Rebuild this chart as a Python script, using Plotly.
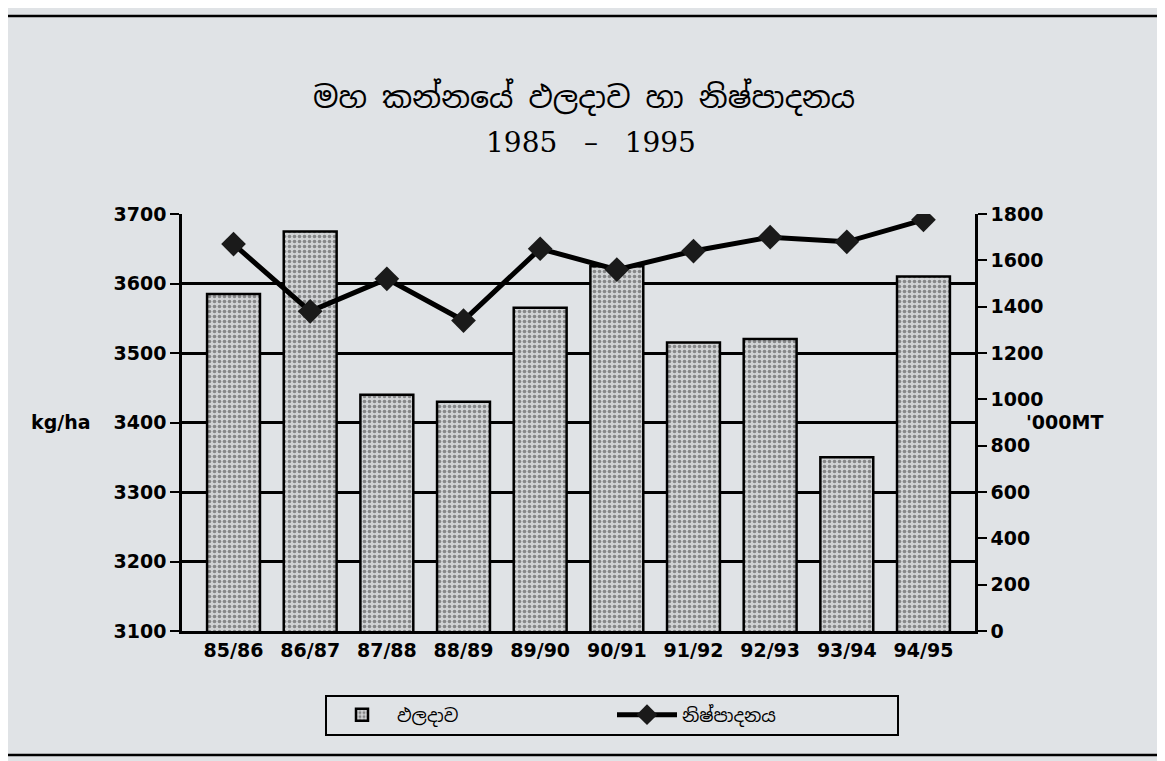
import plotly.graph_objects as go

seasons = ["85/86", "86/87", "87/88", "88/89", "89/90", "90/91", "91/92", "92/93", "93/94", "94/95"]
yield_kg_ha = [3585, 3675, 3440, 3430, 3565, 3625, 3515, 3520, 3350, 3610]
production_000mt = [1670, 1380, 1520, 1340, 1650, 1560, 1640, 1700, 1680, 1775]

title_si = "මහ කන්නයේ ඵලදාව හා නිෂ්පාදනය"
subtitle = "1985   –   1995"
yield_name = "ඵලදාව"
prod_name = "නිෂ්පාදනය"

left_ticks = [3100, 3200, 3300, 3400, 3500, 3600, 3700]
right_ticks = [0, 200, 400, 600, 800, 1000, 1200, 1400, 1600, 1800]

bg = "#e0e3e6"
si_font = "Noto Sans Sinhala, Iskoola Pota, Noto Sans, sans-serif"
num_font = dict(size=19, family="DejaVu Sans, Liberation Sans, Arial", weight="bold", color="black")


def px_x(px):
    return (px - 182) / 793


def px_y(py):
    return (631 - py) / 417


fig = go.Figure()
fig.add_trace(go.Bar(
    x=seasons, y=yield_kg_ha, name=yield_name, yaxis="y",
    width=0.69,
    marker=dict(color="#cfd1d3",
                line=dict(color="black", width=2.5),
                pattern=dict(shape=".", fgcolor="#3a3a3a", bgcolor="#d0d2d4",
                             size=5, solidity=0.42)),
))
fig.add_trace(go.Scatter(
    x=seasons, y=production_000mt, name=prod_name, yaxis="y2",
    mode="lines+markers",
    line=dict(color="black", width=5),
    marker=dict(symbol="diamond", size=19, color="#1a1a1a"),
))

fig.update_layout(
    width=1165, height=761,
    paper_bgcolor=bg, plot_bgcolor=bg,
    margin=dict(l=174, r=198, t=206, b=138),
    font=dict(family="DejaVu Sans, Liberation Sans, Arial, sans-serif", color="black"),
    showlegend=True,
    bargap=0.31,
    xaxis=dict(showline=True, linecolor="black", linewidth=2.5,
               ticks="", tickfont=num_font, showgrid=False),
    yaxis=dict(range=[3100, 3700], tickvals=left_ticks,
               showline=True, linecolor="black", linewidth=2.5,
               ticks="outside", ticklen=9, tickwidth=2, tickcolor="black",
               showgrid=True, gridcolor="black", gridwidth=2.5,
               tickfont=num_font, zeroline=False),
    yaxis2=dict(range=[0, 1800], tickvals=right_ticks, overlaying="y", side="right",
                showline=True, linecolor="black", linewidth=2.5,
                ticks="outside", ticklen=9, tickwidth=2, tickcolor="black",
                showgrid=False, zeroline=False, tickfont=num_font),
    legend=dict(orientation="h", x=px_x(612), xanchor="center", y=px_y(715), yanchor="middle",
                bordercolor="black", borderwidth=2, bgcolor=bg,
                font=dict(size=18, family=si_font),
                entrywidth=210, itemwidth=60),
)

fig.add_annotation(text=title_si, xref="paper", yref="paper", x=px_x(584), y=px_y(98),
                   showarrow=False, font=dict(size=30, family=si_font), yanchor="middle")
fig.add_annotation(text=subtitle, xref="paper", yref="paper", x=px_x(591), y=px_y(143),
                   showarrow=False, font=dict(size=28, family="DejaVu Serif, Liberation Serif, serif"),
                   yanchor="middle")
fig.add_annotation(text="kg/ha", xref="paper", yref="paper", x=px_x(93), y=px_y(422),
                   xanchor="right", showarrow=False, font=num_font, yanchor="middle")
fig.add_annotation(text="'000MT", xref="paper", yref="paper", x=px_x(1105), y=px_y(422),
                   showarrow=False, font=num_font, yanchor="middle")

fig.add_shape(type="rect", xref="paper", yref="paper",
              x0=px_x(6), x1=px_x(1160), y0=px_y(755), y1=px_y(16),
              line=dict(color="black", width=2.5), layer="below")

fig.write_html("out.html")
